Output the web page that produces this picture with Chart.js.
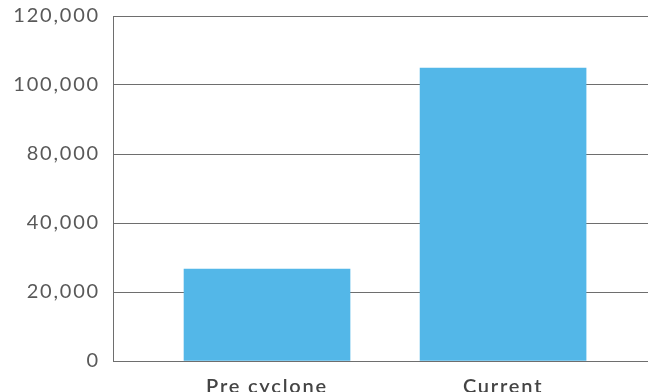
<!DOCTYPE html>
<html>
<head>
<meta charset="utf-8">
<script src="https://cdn.jsdelivr.net/npm/chart.js@4"></script>
<style>
    html, body { margin: 0; padding: 0; background: #ffffff; }
    #wrap { width: 648px; height: 392px; }
</style>
</head>
<body>
<div id="wrap"><canvas id="myChart" width="648" height="392"></canvas></div>
<script>
// 카테고리와 값
const categories = ['Pre cyclone', 'Current'];
const categoryPos = [0, 1];
const values = [32000, 101900];

// 축 눈금 (그림에 적힌 그대로)
const tickValues = [0, 24000, 48000, 72000, 96000, 120000];
const tickLabels = ['0', '20,000', '40,000', '80,000', '100,000', '120,000'];

// 글자 간격 플러그인
const spacingPlugin = {
    id: 'spacing',
    beforeUpdate(chart) { chart.ctx.letterSpacing = '1.8px'; },
    beforeDraw(chart) { chart.ctx.letterSpacing = '1.8px'; }
};

const ctx = document.getElementById('myChart').getContext('2d');

const myChart = new Chart(ctx, {
    type: 'bar',
    data: {
        datasets: [{
            data: categoryPos.map((x, i) => ({ x: x, y: values[i] })),
            backgroundColor: '#53b7e8',
            borderWidth: 0,
            barThickness: 166
        }]
    },
    options: {
        responsive: false,
        animation: false,
        layout: { padding: { top: 16, right: 0, left: 0, bottom: 0 } },
        plugins: {
            legend: { display: false },
            tooltip: { enabled: false }
        },
        scales: {
            x: {
                type: 'linear',
                offset: false,
                min: -0.6525,
                max: 1.614,
                afterBuildTicks: (scale) => {
                    scale.ticks = categoryPos.map(v => ({ value: v }));
                },
                afterFit: (scale) => { scale.height = 31; },
                grid: { display: false, offset: false },
                border: { display: false },
                ticks: {
                    padding: 6,
                    color: '#444444',
                    font: { family: 'Lato', size: 20, weight: '600' },
                    callback: (v) => categories[categoryPos.indexOf(v)] ?? ''
                }
            },
            y: {
                min: 0,
                max: 120000,
                afterBuildTicks: (scale) => {
                    scale.ticks = tickValues.map(v => ({ value: v }));
                },
                afterFit: (scale) => {
                    scale.width = 113;
                    scale.paddingTop = 0;
                    scale.paddingBottom = 0;
                },
                grid: { color: '#6e6e6e', lineWidth: 1, drawTicks: false },
                border: { display: true, color: '#6e6e6e', width: 1 },
                ticks: {
                    padding: 13,
                    color: '#595959',
                    font: { family: 'Lato', size: 20 },
                    callback: (v) => tickLabels[tickValues.indexOf(v)]
                }
            }
        }
    },
    plugins: [spacingPlugin]
});
</script>
</body>
</html>
